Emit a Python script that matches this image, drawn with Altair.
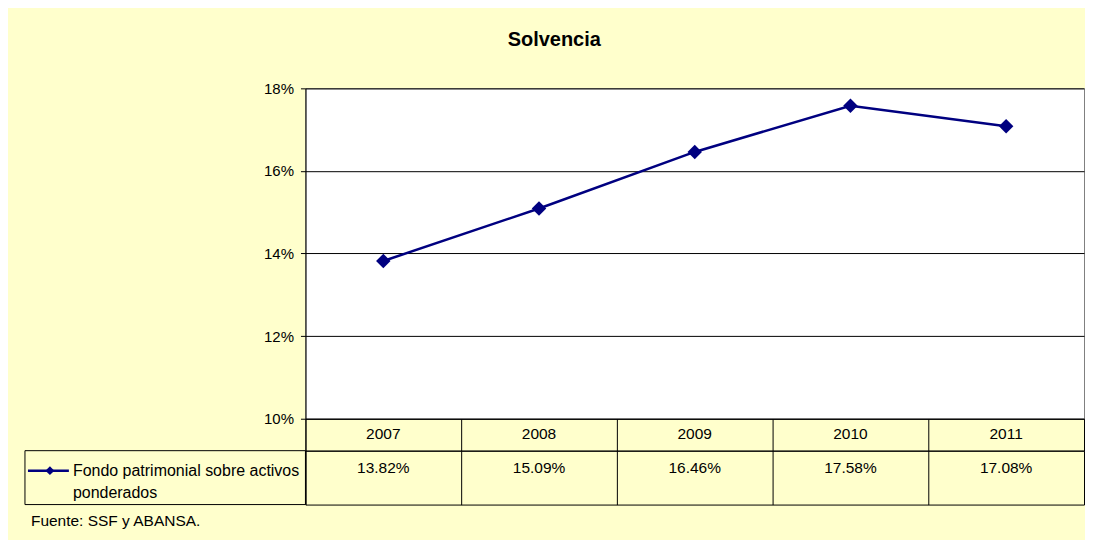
import altair as alt
import pandas as pd

years = ["2007", "2008", "2009", "2010", "2011"]
values = [13.82, 15.09, 16.46, 17.58, 17.08]
y_ticks = [0.10, 0.12, 0.14, 0.16, 0.18]
series_name = "Fondo patrimonial sobre activos\nponderados"
source_note = "Fuente: SSF y ABANSA."
title_text = "Solvencia"

FONT = "Liberation Sans"
NAVY = "#000080"
BG = "#FFFFCC"
W = 780

df = pd.DataFrame({
    "year": years,
    "v": [x / 100 for x in values],
    "label": [f"{x:.2f}%" for x in values],
})

xscale_pt = alt.Scale(type="point", padding=0.5, domain=years)
xscale_band = alt.Scale(type="band", paddingInner=0, paddingOuter=0, domain=years)

base = alt.Chart(df).encode(
    x=alt.X("year:O", scale=xscale_pt, axis=None),
    y=alt.Y("v:Q", scale=alt.Scale(domain=[0.10, 0.18], nice=False, zero=False),
            axis=alt.Axis(values=y_ticks, format=".0%", title=None, grid=True,
                          gridColor="black", gridOpacity=1, domainColor="black",
                          tickColor="black", tickSize=5, labelPadding=7,
                          labelFont=FONT, labelFontSize=15, labelColor="black")),
)
line = base.mark_line(color=NAVY, strokeWidth=2.5)
pts = base.mark_point(shape="diamond", filled=True, size=210, color=NAVY, opacity=1)
top = alt.layer(line, pts).properties(
    width=W, height=331,
    view=alt.ViewBackground(fill="white", stroke="#808080"),
)

band_axis = alt.Axis(grid=True, bandPosition=0, labels=False, ticks=False, domain=False,
                     title=None, gridColor="black", gridOpacity=1)

header = alt.Chart(df).mark_text(font=FONT, fontSize=15.5, color="black", baseline="middle").encode(
    x=alt.X("year:N", scale=xscale_band, axis=band_axis),
    y=alt.value(15),
    text="year:N",
).properties(width=W, height=32, view=alt.ViewBackground(stroke="black", fill=None))

vals = alt.Chart(df).mark_text(font=FONT, fontSize=15.5, color="black", baseline="middle").encode(
    x=alt.X("year:N", scale=xscale_band, axis=band_axis),
    y=alt.value(17),
    text="label:N",
)
one = pd.DataFrame({"t": [series_name]})
cell = alt.Chart(one).mark_rect(fillOpacity=0, stroke="black", strokeWidth=1).encode(
    x=alt.value(-281), x2=alt.value(0), y=alt.value(0), y2=alt.value(54)
)
sym_line = alt.Chart(one).mark_rule(color=NAVY, strokeWidth=2.5).encode(
    x=alt.value(-278), x2=alt.value(-237), y=alt.value(20)
)
sym_pt = alt.Chart(one).mark_point(shape="diamond", filled=True, size=80, color=NAVY, opacity=1).encode(
    x=alt.value(-256), y=alt.value(20)
)
leg_text = alt.Chart(one).mark_text(font=FONT, fontSize=16, color="black", align="left",
                                    baseline="alphabetic", lineBreak="\n", lineHeight=22).encode(
    x=alt.value(-233), y=alt.value(25), text="t:N"
)
note = alt.Chart(pd.DataFrame({"t": [source_note]})).mark_text(
    font=FONT, fontSize=15.5, color="black", align="left", baseline="middle").encode(
    x=alt.value(-275), y=alt.value(70), text="t:N"
)
valrow = alt.layer(vals, cell, sym_line, sym_pt, leg_text, note).properties(
    width=W, height=54, view=alt.ViewBackground(stroke="black", fill=None)
)

chart = alt.vconcat(top, header, valrow, spacing=0, bounds="flush").properties(
    title=alt.TitleParams(title_text, font=FONT, fontSize=20, fontWeight="bold",
                          color="black", anchor="middle", offset=31),
    padding={"left": 16, "top": 21, "right": 0, "bottom": 10},
    background=BG,
).resolve_scale(x="independent")

chart.save("out.html", embed_options={"renderer": "svg", "actions": False})
